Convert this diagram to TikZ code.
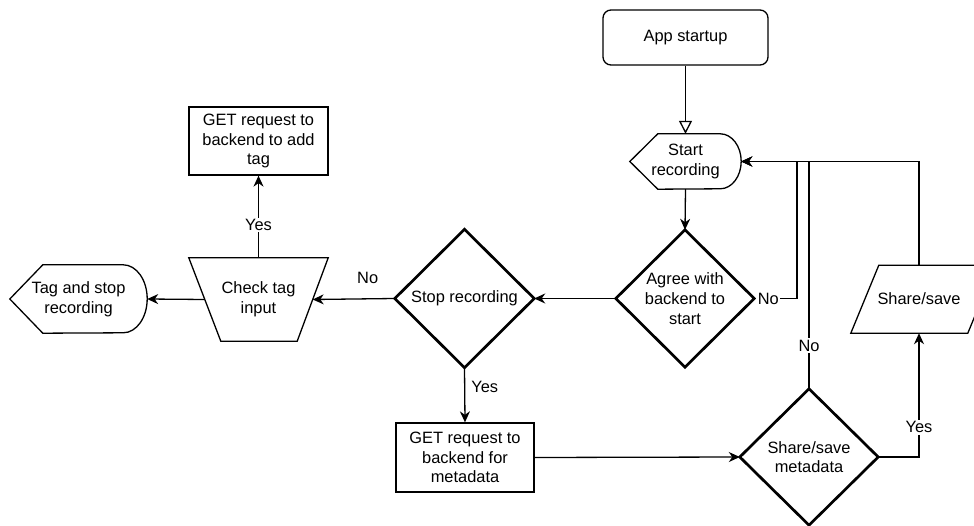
\documentclass[tikz,border=0pt]{standalone}
\usepackage{fontspec}
\setmainfont{Liberation Sans}
\usetikzlibrary{arrows.meta,calc}
\begin{document}
\begin{tikzpicture}[x=1pt,y=-1pt,
  font=\fontsize{16.4}{19.7}\selectfont,
  line/.style={line width=1.3pt},
  thickshape/.style={line width=2.7pt, line join=miter},
  box/.style={rectangle, draw=none, inner sep=0pt, align=center},
  arr/.style={line, -{Stealth[length=11pt,width=10pt,inset=3.5pt]}},
  lbl/.style={fill=white, inner sep=1.5pt}
]
\useasboundingbox (0,0) rectangle (974,526);
\clip (0,0) rectangle (974,526);

% App startup
\node[box, draw, line, rounded corners=8pt, minimum width=165pt, minimum height=55pt] (app) at (685.5,37.5) {App startup};

% Start recording (display shape)
\node[box, minimum width=111pt, minimum height=55pt] (start) at (685.5,161.5) {Start\\recording};
\draw[line] ($(start.north west)+(28,0)$) -- ($(start.north east)+(-21,0)$)
  arc[start angle=90, end angle=-90, x radius=21pt, y radius=27.5pt]
  -- ($(start.south west)+(28,0)$) -- (start.west) -- cycle;

% Agree diamond
\node[box, minimum width=138pt, minimum height=137pt] (agree) at (685,298.5) {Agree with\\backend to\\start};
\draw[thickshape] (agree.north) -- (agree.east) -- (agree.south) -- (agree.west) -- cycle;

% Stop recording diamond
\node[box, minimum width=139pt, minimum height=138pt] (stop) at (464.5,298.5) {Stop recording};
\draw[thickshape] (stop.north) -- (stop.east) -- (stop.south) -- (stop.west) -- cycle;

% GET metadata
\node[box, draw, line, minimum width=138pt, minimum height=69pt] (gmeta) at (465,457.5) {GET request to\\backend for\\metadata};

% Share/save metadata diamond
\node[box, minimum width=138pt, minimum height=136pt] (meta) at (809,457) {Share/save\\metadata};
\draw[thickshape] (meta.north) -- (meta.east) -- (meta.south) -- (meta.west) -- cycle;

% Share/save parallelogram
\node[box, minimum width=136pt, minimum height=68pt] (ss) at (919,299) {Share/save};
\draw[line] (ss.south west) -- ++(117,0) -- ++(28,-68) -- ++(-117,0) -- cycle;

% Check tag input (trapezoid)
\node[box, minimum width=139pt, minimum height=83pt] (ct) at (258.5,299.5) {Check tag\\input};
\draw[line] (ct.north west) -- (ct.north east) -- ($(ct.south east)+(-31,0)$) -- ($(ct.south west)+(32,0)$) -- cycle;
\coordinate (ctR) at ($(ct.east)+(-15.5,0)$);
\coordinate (ctL) at ($(ct.west)+(16,0)$);

% GET tag
\node[box, draw, line, minimum width=139pt, minimum height=68pt] (gtag) at (258.5,141) {GET request to\\backend to add\\tag};

% Tag and stop recording (display shape)
\node[box, minimum width=137pt, minimum height=68pt] (ts) at (78.5,299) {Tag and stop\\recording};
\draw[line] ($(ts.north west)+(33,0)$) -- ($(ts.north east)+(-24,0)$)
  arc[start angle=90, end angle=-90, x radius=24pt, y radius=34pt]
  -- ($(ts.south west)+(33,0)$) -- (ts.west) -- cycle;

% helper coordinates
\coordinate (j1) at (797,0);

% Connectors
\draw[line, -{Triangle[open,length=13pt,width=13pt]}] (app.south) -- (start.north);
\draw[arr] (start.south) -- (agree.north);
\draw[arr] (agree.west) -- (stop.east);
\draw[arr] (stop.west) -- node[pos=0.33, yshift=21pt]{No} (ctR);
\draw[arr] (ctL) -- (ts.east);
\draw[arr] (ct.north) -- node[lbl, pos=0.4]{Yes} (gtag.south);
\draw[arr] (stop.south) -- node[right, pos=0.36, inner sep=6pt]{Yes} (gmeta.north);
\draw[arr] (gmeta.east) -- (meta.west);
\draw[arr] (meta.east) -| node[lbl, pos=0.62]{Yes} (ss.south);
\draw[arr] (agree.east) -- node[lbl, pos=0.33]{No} (agree.east -| j1) |- (start.east);
\draw[arr] (meta.north) -- node[lbl, pos=0.19]{No} (meta.north |- start.east) -- (start.east);
\draw[arr] (ss.north) |- (start.east);
\end{tikzpicture}
\end{document}
